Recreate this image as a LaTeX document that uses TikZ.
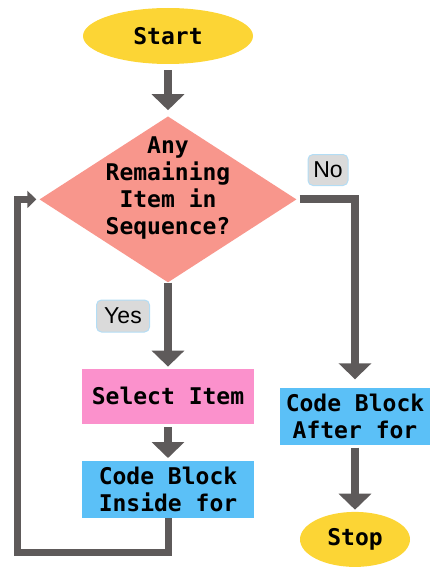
\documentclass[tikz,border=0pt]{standalone}
\usepackage{fontspec}
\setmonofont{DejaVu Sans Mono}
\setsansfont{Liberation Sans}
\usetikzlibrary{arrows.meta,positioning,shapes.geometric}
\definecolor{termyellow}{HTML}{FCD535}
\definecolor{decsalmon}{HTML}{F8968C}
\definecolor{selpink}{HTML}{FB91CC}
\definecolor{codeblue}{HTML}{5BC0F7}
\definecolor{linegray}{HTML}{5E5A5A}
\definecolor{taggray}{HTML}{DADADA}
\definecolor{tagedge}{HTML}{B3DDF5}
\begin{document}
\begin{tikzpicture}[x=1pt,y=-1pt,
font=\ttfamily\bfseries\fontsize{23}{27}\selectfont,
term/.style={ellipse,fill=termyellow,inner sep=0pt},
decision/.style={diamond,fill=decsalmon,minimum width=257pt,minimum height=166pt,inner sep=0pt},
box/.style={rectangle,minimum height=56pt,align=center,inner sep=0pt},
tag/.style={rounded corners=5pt,fill=taggray,draw=tagedge,line width=1pt,inner sep=0pt,
  font=\sffamily\fontsize{23}{26}\selectfont},
arr/.style={draw=linegray,line width=8pt,-{Triangle[length=16pt,width=32pt]}},
back/.style={draw=linegray,line width=7pt,-{Triangle[length=9pt,width=17pt]}}]
\useasboundingbox (0,0) rectangle (430,567);
\node[term,minimum width=170pt,minimum height=56pt] (start) at (168,36) {Start};
\node[decision,below=52pt of start,
  label={[align=center,yshift=11pt]center:Any\\Remaining\\Item in\\Sequence?}] (dec) {};
\node[box,fill=selpink,minimum width=172pt,minimum height=55pt,below=86pt of dec] (select) {Select Item};
\node[box,fill=codeblue,minimum width=172pt,minimum height=57pt,below=37pt of select] (inside) {Code Block\\Inside for};
\node[box,fill=codeblue,minimum width=150pt,minimum height=57pt] (after) at (355,416) {Code Block\\After for};
\node[term,minimum width=110pt,minimum height=55pt,below=67pt of after] (stop) {Stop};
\node[tag,minimum width=40pt,minimum height=31pt] (no) at (328,170) {No};
\node[tag,minimum width=53pt,minimum height=32pt] (yes) at (123,316) {Yes};
\coordinate (loopbot) at (17,552);
% arrows
\draw[arr,shorten <=6pt,shorten >=6pt] (start) -- (dec);
\draw[arr,shorten >=2pt] (dec.south) -- (dec.south |- select.north);
\draw[arr,shorten <=3pt,shorten >=3pt] (select) -- (inside);
\draw[arr,shorten <=3pt,shorten >=8pt] (dec.east) -| (after.north);
\draw[arr,shorten <=3pt,shorten >=2pt] (after) -- (stop);
\draw[back,shorten >=3pt] (inside.south) |- (loopbot) |- (dec.west);
\end{tikzpicture}
\end{document}
